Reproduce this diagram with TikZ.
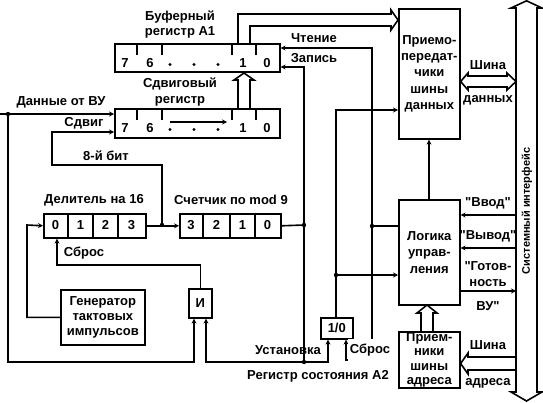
\documentclass[tikz,border=0pt]{standalone}
\usepackage{fontspec}
\setmainfont{Liberation Sans}[Ligatures=TeXOff]
\usetikzlibrary{arrows.meta}
\begin{document}
\begin{tikzpicture}[x=1pt,y=-1pt,line width=1.6pt,
  lbl/.style={font=\fontsize{13}{15.5}\selectfont\bfseries,inner sep=0pt,align=center},
  box/.style={draw,fill=white,inner sep=0pt,align=center,font=\fontsize{13}{16.3}\selectfont\bfseries,anchor=north west},
  arr/.style={-{Stealth[length=5pt,width=5pt]}},
  bus/.style={draw,fill=white,line join=miter}]
\useasboundingbox (0,0) rectangle (543,402);

% system bus
\path[bus] (516,8) -- (511,8) -- (526.5,0.8) -- (542,8) -- (537,8) -- (537,392) -- (542,392) -- (526.5,401) -- (511,392) -- (516,392) -- cycle;
\node[lbl,rotate=90,font=\fontsize{11}{14}\selectfont\bfseries] (sys) at (527,211) {Системный интерфейс};

% boxes
\node[box,minimum width=165pt,minimum height=28pt] (buf) at (114,43) {};
\node[box,minimum width=165pt,minimum height=29pt] (shf) at (114,108) {};
\node[box,minimum width=61pt,minimum height=130pt] (trx) at (398,8) {Приемо-\\передат-\\чики\\шины\\данных};
\node[box,minimum width=61pt,minimum height=105pt] (logic) at (398,199) {Логика\\управ-\\ления};
\node[box,minimum width=61pt,minimum height=56pt,font=\fontsize{13}{14.3}\selectfont\bfseries] (rcv) at (398,331) {Прием-\\ники\\шины\\адреса};
\node[box,minimum width=102pt,minimum height=24pt] (div) at (43,213) {};
\node[box,minimum width=101pt,minimum height=24pt] (cnt) at (179,213) {};
\node[box,minimum width=84pt,minimum height=55pt,font=\fontsize{13}{15}\selectfont\bfseries] (gen) at (60,289) {Генератор\\тактовых\\импульсов};
\node[box,minimum width=23pt,minimum height=29pt] (andg) at (188,288) {И};
\node[box,minimum width=32pt,minimum height=21pt] (ff) at (320,317) {1/0};

% register ticks and digits
\foreach \yy in {43,108}{
  \foreach \xx in {137,162,232,256} \draw (\xx,\yy) -- (\xx,\yy+12);
}
\foreach \yy/\nm in {63.5/b,128.5/s}{
  \node[lbl] (\nm7) at (125,\yy) {7};
  \node[lbl] (\nm6) at (150,\yy) {6};
  \node[lbl] (\nm1) at (243,\yy) {1};
  \node[lbl] (\nm0) at (267,\yy) {0};
  \foreach \xx in {170,194,218} \fill (\xx,\yy+1) circle (1.6pt);
}
\draw[arr] (170,122) -- (227,122);

% divider and counter cells
\foreach \xx in {68,93,118} \draw (\xx,213) -- (\xx,237);
\foreach \xx in {203,230,255} \draw (\xx,213) -- (\xx,237);
\node[lbl] (d0) at (55.5,225) {0};
\node[lbl] (d1) at (80.5,225) {1};
\node[lbl] (d2) at (105.5,225) {2};
\node[lbl] (d3) at (131.5,225) {3};
\node[lbl] (c3) at (191,225) {3};
\node[lbl] (c2) at (216.5,225) {2};
\node[lbl] (c1) at (242.5,225) {1};
\node[lbl] (c0) at (267.5,225) {0};

% coordinates
\coordinate (din) at (0,114);
\coordinate (jD) at (8,114);
\coordinate (j8) at (162,225);
\coordinate (jW) at (304,225);
\coordinate (jS) at (304,362);
\coordinate (jR) at (372,226);
\coordinate (jQ) at (336,275);

% buses
\draw[line join=miter] (buf.north -| 238,0) -- (238,14) -- (391,14) -- (391,10) -- (trx.west |- 0,20) -- (391,30) -- (391,26) -- (250,26) -- (buf.north -| 250,0);
\draw[line join=miter] (shf.north -| 238,0) -- (238,80) -- (234,80) -- (244,73) -- (254,80) -- (250,80) -- (shf.north -| 250,0);
\draw[line join=miter] (rcv.north -| 421,0) -- (421,313) -- (417,313) -- (427,305) -- (437,313) -- (433,313) -- (rcv.north -| 433,0);
\path[bus] (trx.east |- 0,81.5) -- (468,73) -- (468,76) -- (507,76) -- (507,73) -- (516,81.5) -- (507,90) -- (507,87) -- (468,87) -- (468,90) -- cycle;
\draw[line join=miter] (516,357) -- (468,357) -- (468,353) -- (rcv.east |- 0,363.5) -- (468,374) -- (468,370) -- (516,370);

% wires
\draw[arr] (din) -- (shf.west |- din);
\draw[arr] (jD) |- (194,362) -- (andg.south -| 194,0);
\draw[arr] (j8) -- (162,165) -| (52,132) -- (shf.west |- 0,132);
\draw[arr] (div.east) -- (cnt.west);
\draw[arr] (gen.west) -| (27,225) -- (div.west);
\draw[arr] (andg.north) |- (57,265) -- (div.south -| 57,0);
\draw (cnt.east) -- (jW);
\draw[arr] (jS) -- (304,67) -- (buf.east |- 0,67);
\draw[arr] (jS) -| (andg.south -| 206,0);
\draw[arr] (jS) -| (ff.south -| 328,0);
\draw[arr] (372,360) -- (372,48) -- (buf.east |- 0,48);
\draw[arr] (372,360) -| (ff.south -| 346,0);
\draw (logic.west |- jR) -- (jR);
\draw[arr] (ff.north -| 336,0) |- (trx.west |- 0,110);
\draw[arr] (jQ) -- (logic.west |- jQ);
\draw[arr] (logic.north -| 429,0) -- (trx.south -| 429,0);
\draw[arr] (516,215) -- (logic.east |- 0,215);
\draw[arr] (516,248) -- (logic.east |- 0,248);
\draw[arr] (logic.east |- 0,291) -- (516,291);

\foreach \p in {jD,j8,jW,jS,jR,jQ} \fill (\p) circle (2.2pt);

% labels
\node[lbl] (lbuf) at (180,24.5) {Буферный\\регистр А1};
\node[lbl] (lshf) at (180,92) {Сдвиговый\\регистр};
\node[lbl] (ldin) at (61,102) {Данные от ВУ};
\node[lbl] (lsh) at (84,123) {Сдвиг};
\node[lbl] (l8) at (106,156) {8-й бит};
\node[lbl] (ldiv) at (94,200) {Делитель на 16};
\node[lbl] (lcnt) at (231,200) {Счетчик по mod 9};
\node[lbl] (lrst) at (84,253) {Сброс};
\node[lbl] (lrd) at (314,38) {Чтение};
\node[lbl] (lwr) at (314,58) {Запись};
\node[lbl] (lset) at (288,350) {Установка};
\node[lbl,fill=white,inner xsep=1.5pt,inner ysep=5pt] (lrst2) at (370,350) {Сброс};
\node[lbl] (lA2) at (318,376) {Регистр состояния А2};
\node[lbl] (ldb1) at (488,65) {Шина};
\node[lbl] (ldb2) at (488,100) {данных};
\node[lbl] (lin) at (488,203) {"Ввод"};
\node[lbl] (lout) at (488,236) {"Вывод"};
\node[lbl] (lrdy) at (488,274) {"Готов-\\ность};
\node[lbl] (lvu) at (488,306) {ВУ"};
\node[lbl] (lab1) at (488,345) {Шина};
\node[lbl] (lab2) at (488,383) {адреса};
\end{tikzpicture}
\end{document}
